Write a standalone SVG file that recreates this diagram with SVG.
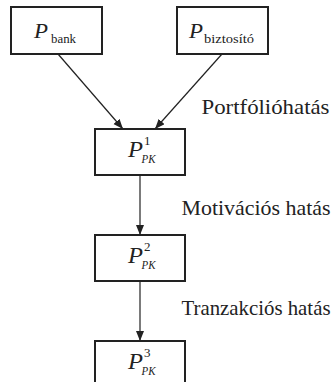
<svg xmlns="http://www.w3.org/2000/svg" width="335" height="382" viewBox="0 0 335 382">
<style>
.box{fill:#fff;stroke:#222;stroke-width:2}
.t{font-family:"Liberation Serif","Times New Roman",serif;fill:#222}
.it{font-style:italic}
.edge{stroke:#222;stroke-width:1.2;fill:none}
</style>
<defs>
<marker id="ah" markerUnits="userSpaceOnUse" markerWidth="11" markerHeight="9" refX="10" refY="4" orient="auto">
<path d="M0,0 L10,4 L0,8 Z" fill="#222"/>
</marker>
</defs>
<rect width="335" height="382" fill="#fff"/>
<g id="connectors">
<line class="edge" x1="58" y1="54" x2="123" y2="129" marker-end="url(#ah)"/>
<line class="edge" x1="222" y1="54" x2="155" y2="129" marker-end="url(#ah)"/>
<line class="edge" x1="140" y1="175" x2="140" y2="235" marker-end="url(#ah)"/>
<line class="edge" x1="140" y1="281" x2="140" y2="341" marker-end="url(#ah)"/>
</g>
<g id="node-bank">
<rect class="box" x="11" y="7" width="91" height="47"/>
<text class="t it" x="34" y="38" font-size="22" textLength="14" lengthAdjust="spacingAndGlyphs">P</text>
<text class="t" x="51" y="43" font-size="13" textLength="25" lengthAdjust="spacingAndGlyphs">bank</text>
</g>
<g id="node-biztosito">
<rect class="box" x="177" y="7" width="91" height="47"/>
<text class="t it" x="189" y="38" font-size="22" textLength="14" lengthAdjust="spacingAndGlyphs">P</text>
<text class="t" x="204" y="43" font-size="13" textLength="50" lengthAdjust="spacingAndGlyphs">biztosító</text>
</g>
<g id="node-pk1">
<rect class="box" x="95" y="129" width="90" height="46"/>
<text class="t it" x="128" y="157" font-size="23" textLength="15" lengthAdjust="spacingAndGlyphs">P</text>
<text class="t" x="144" y="145" font-size="13">1</text>
<text class="t it" x="141.5" y="163" font-size="12" textLength="14" lengthAdjust="spacingAndGlyphs">PK</text>
</g>
<g id="node-pk2">
<rect class="box" x="95" y="235" width="90" height="46"/>
<text class="t it" x="128" y="263" font-size="23" textLength="15" lengthAdjust="spacingAndGlyphs">P</text>
<text class="t" x="144" y="251" font-size="13">2</text>
<text class="t it" x="141.5" y="269" font-size="12" textLength="14" lengthAdjust="spacingAndGlyphs">PK</text>
</g>
<g id="node-pk3">
<rect class="box" x="95" y="341" width="90" height="46"/>
<text class="t it" x="128" y="369" font-size="23" textLength="15" lengthAdjust="spacingAndGlyphs">P</text>
<text class="t" x="144" y="357" font-size="13">3</text>
<text class="t it" x="141.5" y="375" font-size="12" textLength="14" lengthAdjust="spacingAndGlyphs">PK</text>
</g>
<g id="labels">
<text class="t" x="201.5" y="114" font-size="21" textLength="128" lengthAdjust="spacingAndGlyphs">Portfólióhatás</text>
<text class="t" x="181.5" y="215" font-size="21" textLength="149" lengthAdjust="spacingAndGlyphs">Motivációs hatás</text>
<text class="t" x="181.5" y="315" font-size="21" textLength="149" lengthAdjust="spacingAndGlyphs">Tranzakciós hatás</text>
</g>
</svg>
